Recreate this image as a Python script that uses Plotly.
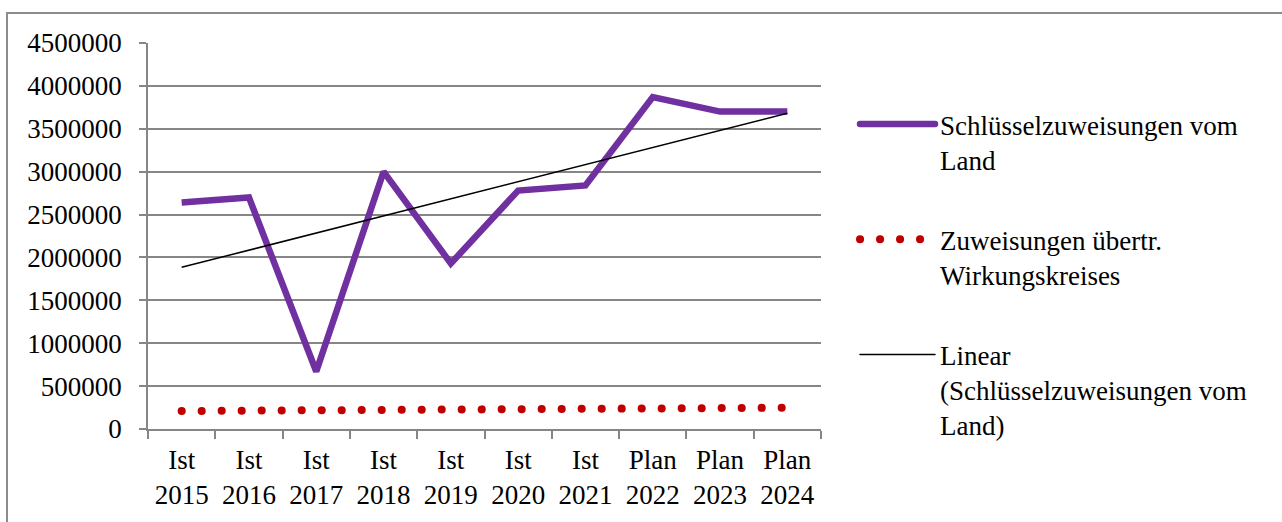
import numpy as np
import plotly.graph_objects as go

categories = ["Ist<br>2015", "Ist<br>2016", "Ist<br>2017", "Ist<br>2018", "Ist<br>2019",
              "Ist<br>2020", "Ist<br>2021", "Plan<br>2022", "Plan<br>2023", "Plan<br>2024"]
schluessel = [2640000, 2700000, 670000, 3000000, 1930000, 2780000, 2840000, 3870000, 3700000, 3700000]
wirkungskreis = [210000, 212000, 215000, 218000, 222000, 226000, 232000, 238000, 244000, 248000]
y_ticks = [0, 500000, 1000000, 1500000, 2000000, 2500000, 3000000, 3500000, 4000000, 4500000]

names = ["Schlüsselzuweisungen vom<br>Land",
         "Zuweisungen übertr.<br>Wirkungskreises",
         "Linear<br>(Schlüsselzuweisungen vom<br>Land)"]

idx = np.arange(len(schluessel))
slope, intercept = np.polyfit(idx, schluessel, 1)
trend = list(slope * idx + intercept)

FONT = "Liberation Serif, DejaVu Serif, serif"
FS = 27
GRID = "#868686"

fig = go.Figure()
fig.add_trace(go.Scatter(x=categories, y=schluessel, mode="lines", name=names[0],
                         line=dict(color="#7030A0", width=6.5), legendgroup="a"))
fig.add_trace(go.Scatter(x=categories, y=wirkungskreis, mode="lines", name=names[1],
                         line=dict(color="#C00000", width=8, dash="0.1px,19.9px"), legendgroup="b"))
fig.add_trace(go.Scatter(x=categories, y=trend, mode="lines", name=names[2],
                         line=dict(color="#000000", width=1.5), legendgroup="c"))

W, H = 1282, 522
L, R, T, B = 148, 821, 43, 429
pw, ph = R - L, B - T

def px(x):
    return (x - L) / pw

def py(y):
    return (B - y) / ph

fig.add_shape(type="rect", xref="paper", yref="paper",
              x0=px(7), x1=px(1300), y0=py(13), y1=py(540),
              line=dict(color="#8c8c8c", width=2), fillcolor="rgba(0,0,0,0)", layer="below")

fig.update_layout(
    width=W, height=H,
    margin=dict(l=L, r=W - R, t=T, b=H - B),
    paper_bgcolor="white", plot_bgcolor="white",
    font=dict(family=FONT, size=FS, color="black"),
    showlegend=True,
    legend=dict(x=px(855), y=py(100), xanchor="left", yanchor="top",
                valign="top", tracegroupgap=42, itemwidth=75,
                font=dict(family=FONT, size=FS), bgcolor="rgba(0,0,0,0)"),
    xaxis=dict(type="category", range=[-0.5, len(categories) - 0.5],
               tickson="boundaries", ticks="outside", ticklen=8,
               tickcolor=GRID, tickwidth=1.5, showline=True, linecolor=GRID, linewidth=1.5,
               showgrid=False, ticklabelstandoff=6,
               tickfont=dict(family=FONT, size=FS)),
    yaxis=dict(range=[0, 4500000], tickvals=y_ticks, ticktext=[str(v) for v in y_ticks],
               ticks="outside", ticklen=7, tickcolor=GRID, tickwidth=1.5,
               showline=True, linecolor=GRID, linewidth=1.5,
               showgrid=True, gridcolor=GRID, gridwidth=1.5, zeroline=False,
               ticklabelstandoff=12, tickfont=dict(family=FONT, size=FS)),
)

post = """
document.body.style.margin = '0';
document.documentElement.style.overflow = 'hidden';
function fixCaps(){
  var traces = document.querySelectorAll('.scatterlayer .trace');
  if (traces.length > 1) {
    traces[1].querySelectorAll('path').forEach(function(p){ p.style.strokeLinecap='round'; });
  }
  var leg = document.querySelectorAll('.legend .traces');
  leg.forEach(function(t){ t.querySelectorAll('.legendlines path').forEach(function(p){ p.style.strokeLinecap='round'; }); });
}
fixCaps();
setTimeout(fixCaps, 200);
"""

fig.write_html("out.html", post_script=post, config={"displayModeBar": False})
